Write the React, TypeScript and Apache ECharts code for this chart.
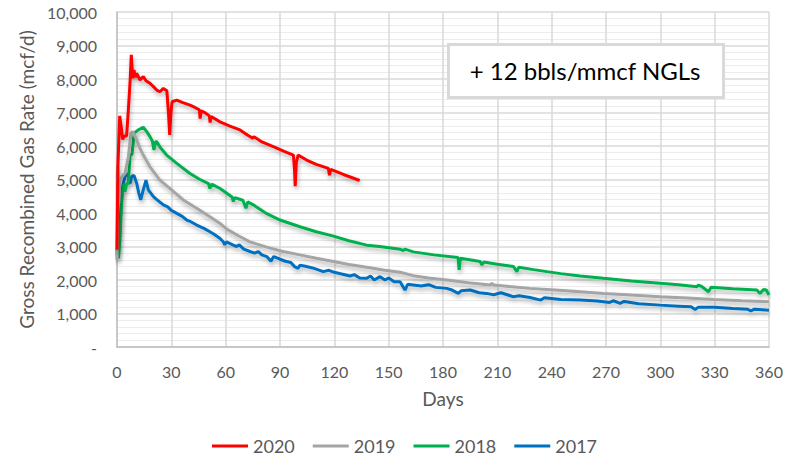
import React, { useEffect, useRef } from "react";
import * as echarts from "echarts";

const legendNames = ["2020", "2019", "2018", "2017"];
const seriesColors = ["#ff0000", "#a5a5a5", "#00b050", "#0070c0"];
const xTicks = { min: 0, max: 360, interval: 30 };
const yTicks = { min: 0, max: 10000, interval: 1000 };
const annotationText = "+ 12 bbls/mmcf NGLs";

const data2020: [number, number][] = [
  [0, 2900], [0.5, 5400], [1.5, 6900], [2.5, 6500], [3.1, 6200], [4, 6300], [5.3, 6300], [6.3, 7100], [7.3, 8000],
  [7.9, 8720], [8.7, 8020], [9.4, 8270], [10.2, 8050], [10.9, 8170], [12.7, 7970], [14.5, 8070], [16, 7950],
  [18.2, 7870], [20, 7780], [21.9, 7670], [23.7, 7620], [25.6, 7720], [27.5, 7650], [28.4, 7000], [29.1, 6330],
  [29.8, 7000], [30.4, 7320], [33, 7370], [36, 7300], [40.3, 7220], [43, 7150], [45.5, 7080], [45.9, 6820],
  [46.5, 7050], [49, 6980], [51, 6900], [51.4, 6700], [52, 6880], [56.9, 6720], [62, 6600], [67.9, 6480],
  [72, 6330], [75, 6230], [75.6, 6280], [80, 6120], [86.3, 5980], [92, 5850], [97.4, 5730], [98, 5300],
  [98.4, 4800], [99, 5500], [100, 5730], [104.7, 5580], [110, 5450], [116.7, 5330], [117.3, 5130], [118, 5300],
  [125, 5150], [134, 4970],
];

const data2019: [number, number][] = [
  [0, 2600], [0.4, 5380], [1, 4300], [1.6, 4980], [3, 5100], [4.4, 5180], [6.3, 5680], [7.7, 6380], [8.7, 6430],
  [10.9, 6180], [12.5, 5950], [14.5, 5730], [18.2, 5380], [23.7, 4980], [29.3, 4730], [36.6, 4390], [44, 4140],
  [51.3, 3890], [56.9, 3690], [60.6, 3520], [67, 3320], [73.4, 3140], [82.7, 2980], [91, 2860], [101, 2750],
  [110, 2650], [119.5, 2550], [128, 2460], [137.9, 2380], [147, 2300], [156.3, 2230], [163.6, 2130], [172, 2060],
  [182, 2000], [194, 1920], [206, 1850], [207, 1900], [208, 1850], [218, 1800], [228, 1750], [242, 1700],
  [255.8, 1650], [268.6, 1600], [284, 1550], [299.9, 1500], [315, 1460], [329.4, 1420], [345, 1380], [360, 1350],
];

const data2018: [number, number][] = [
  [0, 2700], [0.8, 2650], [1.6, 3190], [2.5, 4300], [3.5, 4880], [4.4, 4640], [5.5, 4900], [6.2, 4850],
  [7.2, 5730], [8.3, 5750], [9.4, 6380], [11.8, 6480], [14.5, 6560], [16.5, 6420], [18.2, 6280], [19.5, 6150],
  [20.4, 5880], [21.2, 6130], [21.9, 6130], [24, 5950], [27.4, 5730], [33, 5480], [40.3, 5180], [45.8, 5000],
  [50.5, 4880], [51.3, 4730], [52.3, 4860], [56.9, 4730], [60.6, 4590], [63.5, 4480], [64.2, 4340], [65, 4460],
  [69.5, 4380], [71.2, 4140], [72.2, 4330], [76, 4220], [82.7, 3980], [90, 3790], [101, 3590], [110, 3440],
  [119.5, 3310], [128, 3170], [137.9, 3040], [145, 3000], [156.3, 2920], [158, 2880], [159, 2920],
  [163.6, 2840], [175, 2750], [188.3, 2670], [188.9, 2300], [189.6, 2650], [200.5, 2550], [201.5, 2450],
  [202.5, 2540], [210, 2470], [218.9, 2400], [220.8, 2250], [221.8, 2380], [230, 2310], [237.4, 2250],
  [245, 2190], [255.8, 2120], [268.6, 2050], [284, 1970], [299.9, 1900], [310, 1860], [320.2, 1800],
  [321, 1850], [323, 1800], [326.6, 1650], [328, 1780], [340, 1740], [353.3, 1700], [355, 1600], [357, 1720],
  [358.5, 1700], [360, 1550],
];

const data2017: [number, number][] = [
  [0, 2750], [0.5, 3100], [1.6, 3590], [2.3, 4200], [3.1, 4790], [4.4, 5090], [5.3, 5180], [6.2, 5100],
  [7.2, 4880], [8.1, 5090], [9.4, 5120], [10.9, 4880], [12, 4600], [13.1, 4390], [14.5, 4690], [16, 4980],
  [17.3, 4690], [20.1, 4490], [22, 4400], [25.6, 4240], [28, 4180], [30, 4080], [33, 3990], [36, 3900],
  [38.5, 3790], [40, 3760], [44, 3640], [48, 3540], [51.3, 3440], [54, 3350], [56.9, 3240], [58.7, 3140],
  [59.5, 3050], [60.5, 3140], [64.2, 3040], [66, 3000], [67.5, 3050], [70, 2920], [73.4, 2850], [76, 2800],
  [78, 2850], [80, 2750], [82.7, 2700], [85, 2560], [86.5, 2700], [90, 2620], [93, 2560], [96, 2520],
  [98, 2400], [100, 2350], [101, 2440], [104, 2410], [108, 2360], [113.9, 2250], [117, 2290], [120, 2230],
  [124, 2180], [128.7, 2120], [131, 2160], [134, 2060], [137.9, 2050], [140, 2120], [142, 2000], [145.2, 2100],
  [148, 2000], [150, 2060], [153, 1950], [156.3, 1950], [159, 1700], [160.5, 1870], [163.6, 1850], [168, 1820],
  [172, 1860], [176, 1780], [182, 1750], [185, 1700], [188.5, 1600], [190, 1680], [195, 1700], [200, 1620],
  [204, 1600], [208, 1560], [212, 1620], [218.9, 1500], [222, 1530], [228, 1480], [234, 1400], [236, 1470],
  [245, 1420], [255.8, 1400], [265, 1370], [272, 1330], [274, 1380], [277.8, 1300], [280, 1360], [288, 1290],
  [299.9, 1250], [310, 1220], [317, 1200], [319.2, 1120], [321, 1190], [330, 1190], [340, 1150], [348, 1130],
  [350, 1080], [352, 1130], [360, 1100],
];

const seriesData = [data2020, data2019, data2018, data2017];

const FONT = "Lato, 'Open Sans', sans-serif";

export default function App() {
  const ref = useRef<HTMLDivElement>(null);
  useEffect(() => {
    if (!ref.current) return;
    const chart = echarts.init(ref.current, undefined, { renderer: "svg" });
    chart.setOption({
      animation: false,
      backgroundColor: "#ffffff",
      textStyle: { fontFamily: FONT },
      grid: { left: 117, right: 24, top: 12, bottom: 113, containLabel: false },
      xAxis: {
        type: "value",
        min: xTicks.min,
        max: xTicks.max,
        interval: xTicks.interval,
        name: "Days",
        nameLocation: "middle",
        nameGap: 42,
        nameTextStyle: { color: "#595959", fontSize: 19, fontFamily: FONT },
        axisLine: { show: true, lineStyle: { color: "#bfbfbf", width: 1.5 } },
        axisTick: { show: false },
        axisLabel: { color: "#595959", fontSize: 16, margin: 16, fontFamily: FONT },
        splitLine: { show: true, lineStyle: { color: "#d9d9d9", width: 1.5 } },
      },
      yAxis: {
        type: "value",
        min: yTicks.min,
        max: yTicks.max,
        interval: yTicks.interval,
        name: "Gross Recombined Gas Rate (mcf/d)",
        nameLocation: "middle",
        nameGap: 81,
        nameTextStyle: { color: "#595959", fontSize: 19, fontFamily: FONT },
        axisLine: { show: true, lineStyle: { color: "#bfbfbf", width: 1.5 } },
        axisTick: { show: false },
        axisLabel: {
          color: "#595959",
          fontSize: 16,
          margin: 20,
          fontFamily: FONT,
          formatter: (v: number) => (v === 0 ? "-" : v.toLocaleString("en-US")),
        },
        splitLine: { show: true, lineStyle: { color: "#d9d9d9", width: 1.5 } },
        minorTick: { show: false, splitNumber: 5 },
        minorSplitLine: { show: true, lineStyle: { color: "#ececec", width: 1 } },
      },
      legend: {
        bottom: 0,
        left: 207,
        data: legendNames,
        icon: "rect",
        itemWidth: 36,
        itemHeight: 3,
        itemGap: 18,
        textStyle: { color: "#595959", fontSize: 18, fontFamily: FONT },
      },
      series: legendNames.map((name, i) => ({
        name,
        type: "line",
        data: seriesData[i],
        showSymbol: false,
        symbol: "none",
        color: seriesColors[i],
        z: 10 - i,
        lineStyle: {
          color: seriesColors[i],
          width: 3,
          shadowColor: "rgba(0,0,0,0.3)",
          shadowBlur: 4,
          shadowOffsetX: 1,
          shadowOffsetY: 3,
        },
      })),
      graphic: [
        {
          type: "rect",
          left: 447,
          top: 43,
          shape: { width: 275, height: 53 },
          style: { fill: "#ffffff", stroke: "#d9d9d9", lineWidth: 3 },
          z: 100,
        },
        {
          type: "text",
          x: 585,
          y: 70,
          style: {
            text: annotationText,
            fill: "#000000",
            fontSize: 24,
            fontFamily: FONT,
            align: "center",
            verticalAlign: "middle",
          },
          z: 101,
        },
      ],
    });
    return () => chart.dispose();
  }, []);
  return <div ref={ref} style={{ width: 793, height: 460, position: "absolute", left: 0, top: 0 }} />;
}
